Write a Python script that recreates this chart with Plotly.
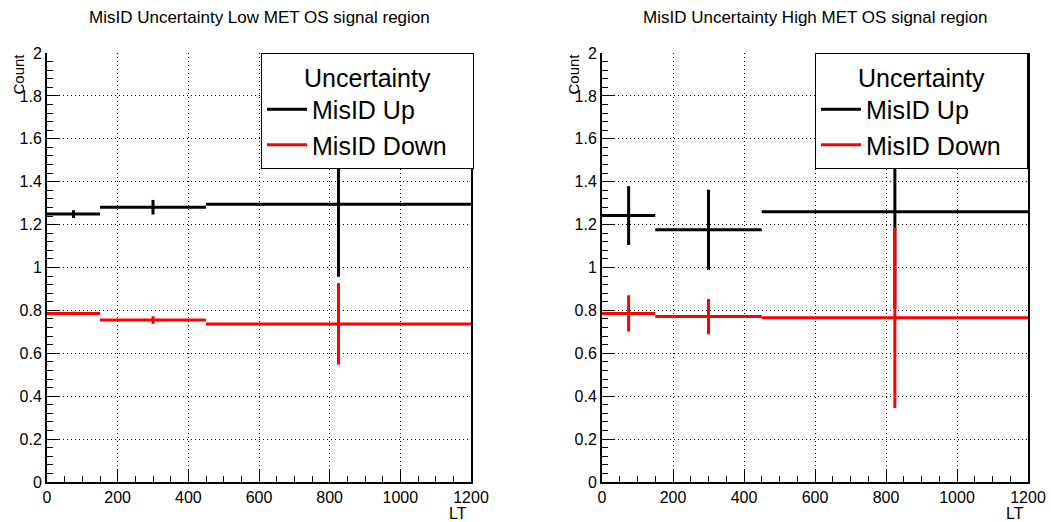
import plotly.graph_objects as go

# LT binning shared by both signal regions
lt_edges = [0, 150, 450, 1200]

# Low MET OS signal region
low_up = [1.249, 1.281, 1.295]
low_up_err = [0.018, 0.034, 0.338]
low_down = [0.786, 0.755, 0.737]
low_down_err = [0.008, 0.018, 0.19]

# High MET OS signal region
high_up = [1.242, 1.176, 1.260]
high_up_err = [0.137, 0.187, 0.45]
high_down = [0.786, 0.771, 0.766]
high_down_err = [0.085, 0.082, 0.421]

panel_titles = [
    "MisID Uncertainty Low MET OS signal region",
    "MisID Uncertainty High MET OS signal region",
]
series_names = ["MisID Up", "MisID Down"]
series_colors = ["#000000", "#ff0000"]
legend_title = "Uncertainty"
x_title = "LT"
y_title = "Count"

x_ticks = [0, 200, 400, 600, 800, 1000, 1200]
y_ticks = [0, 0.2, 0.4, 0.6, 0.8, 1, 1.2, 1.4, 1.6, 1.8, 2]

W, H = 1051, 522
FONT = "Liberation Sans, Arial, Helvetica, sans-serif"
NBSP = "\u00a0"

bin_centers = [(a + b) / 2 for a, b in zip(lt_edges[:-1], lt_edges[1:])]
bin_half = [(b - a) / 2 for a, b in zip(lt_edges[:-1], lt_edges[1:])]

panels = [
    ([low_up, low_down], [low_up_err, low_down_err]),
    ([high_up, high_down], [high_up_err, high_down_err]),
]

# plot-area boxes in pixels (left, right), shared vertical extent
x_px = [(47, 471), (602, 1028)]
y_top, y_bot = 53, 482
legend_right = [474, 1028]

fig = go.Figure()

for p, (vals_list, errs_list) in enumerate(panels):
    sfx = "" if p == 0 else str(p + 1)
    xa, ya = "x" + sfx, "y" + sfx
    leg = "legend" + sfx
    for name, color, vals, errs in zip(series_names, series_colors, vals_list, errs_list):
        fig.add_trace(go.Scatter(
            x=bin_centers, y=vals, mode="markers",
            marker=dict(size=1, color=color, opacity=0),
            error_x=dict(type="data", array=bin_half, width=0, thickness=3, color=color),
            error_y=dict(type="data", array=errs, width=0, thickness=3, color=color),
            showlegend=False, hoverinfo="skip",
            xaxis=xa, yaxis=ya,
        ))
    for name, color in zip(series_names, series_colors):
        fig.add_trace(go.Scatter(
            x=[None], y=[None], mode="lines",
            line=dict(color=color, width=3),
            name=name + NBSP * 3, legend=leg, showlegend=True,
            xaxis=xa, yaxis=ya,
        ))

layout = dict(
    width=W, height=H,
    margin=dict(l=0, r=0, t=0, b=0, autoexpand=False),
    paper_bgcolor="white", plot_bgcolor="white",
    font=dict(family=FONT, color="black", size=16),
    showlegend=True,
    annotations=[],
)

grid_kw = dict(showgrid=True, gridcolor="black", gridwidth=1, griddash="1px,3px")

for p in range(2):
    sfx = "" if p == 0 else str(p + 1)
    x0, x1 = x_px[p]
    layout["xaxis" + sfx] = dict(
        domain=[x0 / W, x1 / W], anchor="y" + sfx, automargin=False,
        range=[0, 1200], tickvals=x_ticks, ticktext=[str(v) for v in x_ticks],
        ticks="inside", ticklen=12, tickwidth=1, tickcolor="black",
        minor=dict(ticks="inside", ticklen=6, tickwidth=1, tickcolor="black",
                   dtick=50, tick0=0, showgrid=False),
        showline=True, linecolor="black", linewidth=2, mirror=False,
        zeroline=False, tickfont=dict(size=16),
        **grid_kw,
    )
    layout["yaxis" + sfx] = dict(
        domain=[1 - y_bot / H, 1 - y_top / H], anchor="x" + sfx, automargin=False,
        range=[0, 2], tickvals=y_ticks, ticktext=[f"{v:g}" for v in y_ticks],
        ticks="inside", ticklen=12, tickwidth=1, tickcolor="black",
        minor=dict(ticks="inside", ticklen=6, tickwidth=1, tickcolor="black",
                   dtick=0.04, tick0=0, showgrid=False),
        showline=True, linecolor="black", linewidth=2, mirror=True,
        zeroline=False, tickfont=dict(size=16),
        **grid_kw,
    )
    layout["legend" + sfx] = dict(
        x=legend_right[p] / W, xanchor="right",
        y=1 - y_top / H, yanchor="top",
        bgcolor="white", bordercolor="black", borderwidth=1,
        font=dict(size=25, family=FONT),
        title=dict(text=legend_title, side="top center", font=dict(size=25, family=FONT)),
        tracegroupgap=0, itemwidth=40,
    )
    cx = (x0 + x1) / 2
    layout["annotations"] += [
        dict(text=panel_titles[p], xref="paper", yref="paper",
             x=cx / W, y=1 - 18 / H, xanchor="center", yanchor="middle",
             showarrow=False, font=dict(size=17)),
        dict(text=x_title, xref="paper", yref="paper",
             x=(x1 - 2) / W, y=1 - 513 / H, xanchor="right", yanchor="middle",
             showarrow=False, font=dict(size=16)),
        dict(text=y_title, xref="paper", yref="paper",
             x=(x0 - 29) / W, y=1 - (y_top - 1) / H, xanchor="center", yanchor="top",
             textangle=-90, showarrow=False, font=dict(size=15)),
    ]

fig.update_layout(**layout)
fig.write_html("out.html")
